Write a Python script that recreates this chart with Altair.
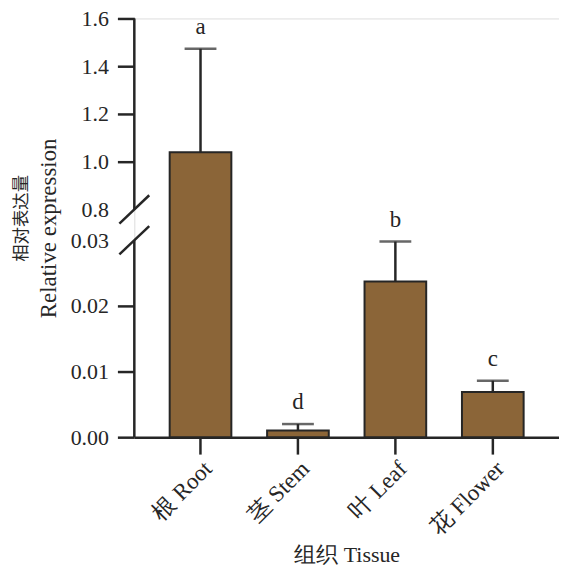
import altair as alt
import pandas as pd

tissues = ["根 Root", "茎 Stem", "叶 Leaf", "花 Flower"]
means = [1.04, 0.00103, 0.0237, 0.00687]
uppers = [1.473, 0.0020, 0.0298, 0.0086]
letters = ["a", "d", "b", "c"]

y_ticks = [0, 0.01, 0.02, 0.03, 0.8, 1.0, 1.2, 1.4, 1.6]
break_lo = 0.03
break_hi = 0.8
y_top = 1.6

ytitle_cn = "相对表达量"
ytitle_en = "Relative expression"
xtitle = "组织 Tissue"

df = pd.DataFrame({"tissue": tissues, "mean": means, "upper": uppers, "letter": letters})
seg = pd.DataFrame({"lo": [0, break_hi], "hi": [break_lo, y_top]})
brk = pd.DataFrame({"b": [break_lo, break_hi]})
cn = pd.DataFrame({"t": [ytitle_cn]})

FONT = "Liberation Serif"
INK = "#262626"
W, H = 427, 421

yscale = alt.Scale(domain=[0, break_lo, break_hi, y_top], range=[H, 223, 192, 0], nice=False)

xenc = alt.X("tissue:N", sort=tissues,
             scale=alt.Scale(paddingInner=0.367, paddingOuter=0.363),
             axis=alt.Axis(title=xtitle, labelAngle=-45, labelFontSize=23, labelFont=FONT,
                           titleFont=FONT, titleFontSize=22, tickSize=17, labelPadding=3, titlePadding=5))

yaxis = alt.Axis(values=y_ticks, domain=False, grid=False,
                 labelExpr="datum.value < 0.1 ? format(datum.value, '.2f') : format(datum.value, '.1f')",
                 labelFont=FONT, labelFontSize=22, labelPadding=9, tickSize=17,
                 tickOpacity={"condition": {"test": "datum.value == 0.03 || datum.value == 0.8", "value": 0}, "value": 1},
                 title=ytitle_en, titleFont=FONT, titleFontSize=23, titlePadding=10)

base = alt.Chart(df)

bars = base.mark_bar(fill="#8B6538", stroke=INK, strokeWidth=2).encode(
    x=xenc,
    y=alt.Y("mean:Q", scale=yscale, axis=yaxis, title=ytitle_en),
)

err = base.mark_rule(color=INK, strokeWidth=2.5).encode(
    x=xenc,
    y=alt.Y("mean:Q", scale=yscale, title=ytitle_en),
    y2="upper:Q",
)

caps = base.mark_tick(color=INK, thickness=2.5, size=32, orient="horizontal").encode(
    x=xenc,
    y=alt.Y("upper:Q", scale=yscale, title=ytitle_en),
)

labels = base.mark_text(font=FONT, fontSize=23, color=INK, baseline="alphabetic", dy=-15).encode(
    x=xenc,
    y=alt.Y("upper:Q", scale=yscale, title=ytitle_en),
    text="letter:N",
)

axis_seg = alt.Chart(seg).mark_rule(color=INK, strokeWidth=2.5).encode(
    x=alt.value(0),
    y=alt.Y("lo:Q", scale=yscale, title=ytitle_en),
    y2="hi:Q",
)

slashes = alt.Chart(brk).mark_point(
    shape="M -1 0.95 L 1 -0.95", size=900, filled=False, stroke=INK, strokeWidth=2.5, opacity=1
).encode(
    x=alt.value(0),
    y=alt.Y("b:Q", scale=yscale, title=ytitle_en),
)

cn_title = alt.Chart(cn).mark_text(
    font="Noto Sans CJK SC", fontSize=17.5, color=INK, angle=270, baseline="middle", align="center"
).encode(
    x=alt.value(-113),
    y=alt.value(201),
    text="t:N",
)

chart = alt.layer(bars, err, caps, labels, axis_seg, slashes, cn_title).properties(
    width=W, height=H,
    autosize=alt.AutoSizeParams(type="none"),
    padding={"left": 127, "top": 9, "right": 0, "bottom": 129},
).configure_view(stroke=None).configure(
    background="white", font=FONT
).configure_axis(
    labelColor=INK, titleColor=INK, titleFontWeight="normal",
    tickColor=INK, tickWidth=2.5, domainColor=INK, domainWidth=2.5,
)

chart.save("out.html", embed_options={"renderer": "svg", "actions": False})
